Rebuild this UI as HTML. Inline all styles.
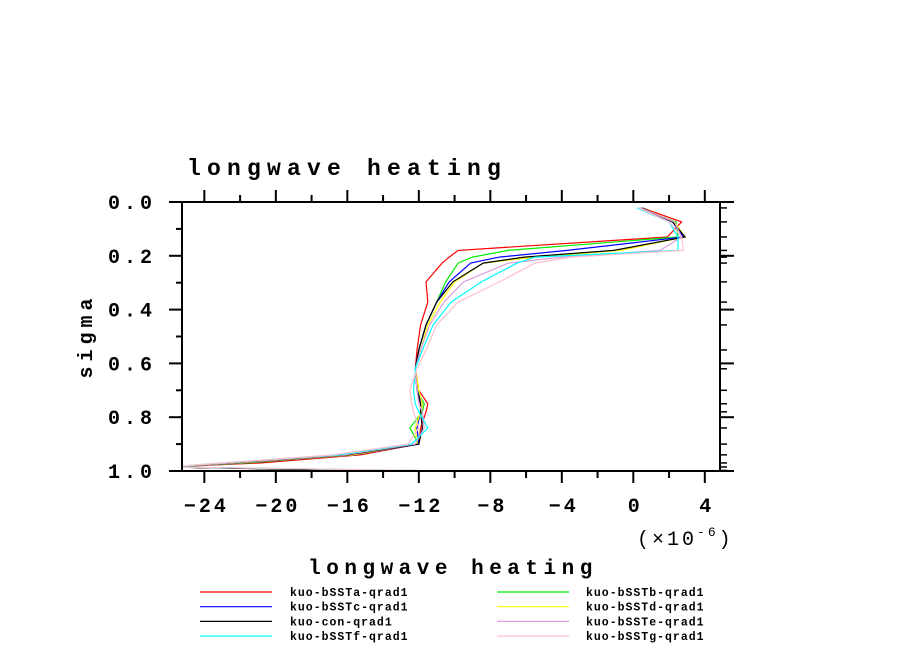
<!DOCTYPE html>
<html><head><meta charset="utf-8"><style>
body{margin:0;background:#fff}
svg{display:block}
text{font-family:"Liberation Mono",monospace;fill:#000}
</style></head><body>
<svg id="chart" width="904" height="654" viewBox="0 0 904 654" xmlns="http://www.w3.org/2000/svg">
<rect width="904" height="654" fill="#fff"/>
<text x="187" y="175" font-size="23" font-weight="bold" letter-spacing="6.2">longwave heating</text>
<defs><clipPath id="plotclip"><rect x="182" y="202" width="538" height="269"/></clipPath></defs>
<g id="series" clip-path="url(#plotclip)"></g>
<g id="axes"></g>
<text x="0" y="0" font-size="20" font-weight="bold" letter-spacing="5" transform="translate(92,336) rotate(-90)" text-anchor="middle">sigma</text>
<text x="453" y="574" font-size="21" font-weight="bold" letter-spacing="5.5" text-anchor="middle">longwave heating</text>
<text x="637" y="545" font-size="20" letter-spacing="3">(×10<tspan font-size="13" dy="-9">-6</tspan><tspan dy="9">)</tspan></text>
<g id="legend"></g>
</svg>
<script>
const levels=[0.022,0.074,0.13,0.18,0.205,0.227,0.297,0.372,0.457,0.55,0.62,0.70,0.75,0.78,0.84,0.90,0.94,0.97,0.985,0.998];
const seriesNames=["kuo-bSSTa-qrad1","kuo-bSSTb-qrad1","kuo-bSSTc-qrad1","kuo-bSSTd-qrad1","kuo-con-qrad1","kuo-bSSTe-qrad1","kuo-bSSTf-qrad1","kuo-bSSTg-qrad1"];
const seriesColors=["#ff0000","#00ee00","#0000ff","#ffff00","#000000","#dda0dd","#00ffff","#ffc0cb"];
const valsA=[0.5,2.7,1.9,-9.8,-10.3,-10.7,-11.6,-11.5,-11.9,-12.1,-12.2,-12.0,-11.5,-11.6,-11.9,-12.0,-15.3,-20.8,-26,-14];
const valsB=[0.3,2.4,2.5,-7.0,-9.0,-9.8,-10.5,-11.0,-11.6,-12.0,-12.2,-12.1,-11.7,-11.8,-12.5,-12.0,-15.8,-21.5,-26,-15];
const valsC=[0.4,2.2,2.8,-3.7,-7.5,-9.1,-10.3,-11.0,-11.6,-12.0,-12.2,-12.1,-11.8,-11.9,-12.1,-12.0,-15.6,-21.8,-26,-15];
const valsD=[0.5,2.3,2.9,-0.7,-5.5,-8.4,-10.0,-10.8,-11.5,-11.9,-12.2,-12.0,-11.8,-11.9,-12.2,-12.1,-15.7,-22,-26,-13];
const valsCon=[0.5,2.2,2.9,-1.1,-6.1,-8.4,-10.1,-11.0,-11.6,-12.0,-12.2,-12.1,-11.9,-11.9,-11.8,-12.0,-16,-22.3,-26,-16];
const valsE=[0.4,2.3,2.7,1.5,-4.0,-7.0,-9.5,-10.6,-11.4,-11.9,-12.2,-12.1,-12.0,-11.8,-11.7,-12.2,-16.2,-22.5,-26,-12];
const valsF=[0.2,2.0,2.5,2.5,-5.5,-6.5,-8.5,-10.2,-11.2,-11.8,-12.2,-12.3,-12.2,-12.0,-11.5,-12.4,-16.5,-23,-26,-12];
const valsG=[0.3,2.0,2.7,2.8,-3.5,-5.5,-7.5,-9.8,-11.0,-11.6,-12.1,-12.5,-12.4,-12.3,-12.0,-12.6,-16.8,-23,-26,-12];
const xTicks=[-24,-20,-16,-12,-8,-4,0,4];
const xTickLabels=["−24","−20","−16","−12","−8","−4","0","4"];
const yTicks=[0,0.2,0.4,0.6,0.8,1.0];
const yTickLabels=["0.0","0.2","0.4","0.6","0.8","1.0"];
const allVals=[valsA,valsB,valsC,valsD,valsCon,valsE,valsF,valsG];

const X0=182,X1=720,Y0=202,Y1=471,XMIN=-25.25,XMAX=4.85;
function xs(v){return X0+(v-XMIN)/(XMAX-XMIN)*(X1-X0);}
function ys(s){return Y0+s*(Y1-Y0);}
const NS="http://www.w3.org/2000/svg";
function mk(tag,attrs,parent){const e=document.createElementNS(NS,tag);for(const k in attrs)e.setAttribute(k,attrs[k]);parent.appendChild(e);return e;}

const sg=document.getElementById('series');
allVals.forEach((vals,i)=>{
  const p=mk('polyline',{points:vals.map((v,j)=>xs(v).toFixed(1)+','+ys(levels[j]).toFixed(1)).join(' '),fill:'none',stroke:seriesColors[i],'stroke-width':1.2},sg);
  
  
});

const ax=document.getElementById('axes');
const frame=mk('rect',{x:X0,y:Y0,width:X1-X0,height:Y1-Y0,fill:'none',stroke:'#000','stroke-width':2},ax);


for(let v=-24;v<=4;v+=2){
  const x=xs(v),major=(v%4===0);
  const L=major?12:7;
  mk('line',{x1:x,x2:x,y1:Y1,y2:Y1+L,stroke:'#000','stroke-width':2},ax);
  mk('line',{x1:x,x2:x,y1:Y0,y2:Y0-L,stroke:'#000','stroke-width':2},ax);
}
xTicks.forEach((v,i)=>{
  const t=mk('text',{x:xs(v)+2,y:512,'font-size':20,'font-weight':'bold','letter-spacing':3,'text-anchor':'middle'},ax);
  t.textContent=xTickLabels[i];
  
  
});
for(let k=0;k<=10;k++){
  const s=k/10,y=ys(s),major=(k%2===0);
  mk('line',{x1:X0,x2:X0-(major?13:6),y1:y,y2:y,stroke:'#000','stroke-width':2},ax);
  if(major)mk('line',{x1:X1,x2:X1+14,y1:y,y2:y,stroke:'#000','stroke-width':2},ax);
}
levels.forEach(s=>{const y=ys(s);mk('line',{x1:X1,x2:X1+7,y1:y,y2:y,stroke:'#000','stroke-width':1.5},ax);});
yTicks.forEach((s,i)=>{
  const t=mk('text',{x:156,y:ys(s)+7,'font-size':20,'font-weight':'bold','letter-spacing':4,'text-anchor':'end'},ax);
  t.textContent=yTickLabels[i];
  
  
});

const lg=document.getElementById('legend');
seriesNames.forEach((n,i)=>{
  const col=i%2,row=Math.floor(i/2);
  const lx=col===0?200:497,tx=col===0?290:586,y=592+row*14.7;
  const l=mk('line',{x1:lx,x2:lx+72,y1:y,y2:y,stroke:seriesColors[i],'stroke-width':1.2},lg);
  
  
  const t=mk('text',{x:tx,y:y+4,'font-size':11.5,'font-weight':'bold','letter-spacing':1},lg);
  t.textContent=n;
  
  
});
</script>
</body></html>
